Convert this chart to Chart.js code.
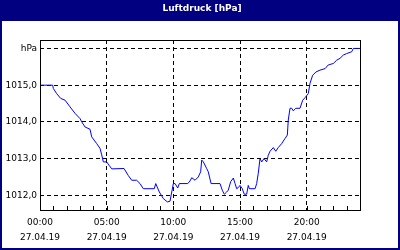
<!DOCTYPE html>
<html>
<head>
<meta charset="utf-8">
<script src="https://cdn.jsdelivr.net/npm/chart.js"></script>
<style>
  html, body { margin: 0; padding: 0; background: #fff; }
  #wrap { width: 400px; height: 250px; }
</style>
</head>
<body>
<div id="wrap"><canvas id="pressureChart" width="400" height="250"></canvas></div>
<script>
const chartTitle = 'Luftdruck [hPa]';
const dateLabel = '27.04.19';
const labelHours = [0, 5, 10, 15, 20];
const timeLabels = ['00:00', '05:00', '10:00', '15:00', '20:00'];
const yTicks = [1012, 1013, 1014, 1015, 1016];
const yUnit = 'hPa';

// hours since 00:00 and pressure in hPa
const hours = [0, 0.95, 1.0, 1.25, 1.55, 1.88, 2.25, 2.63, 3.0, 3.13, 3.38, 3.75, 3.88, 4.25, 4.5, 4.63, 4.75, 5.0, 5.18, 5.38,
  6.3, 6.62, 6.88, 7.25, 7.5, 7.75, 8.57, 8.68, 8.95, 9.25, 9.55, 9.75, 10.0, 10.13, 10.33, 10.45, 11.08, 11.25, 11.38, 11.63,
  11.87, 12.05, 12.13, 12.25, 12.5, 12.62, 12.83, 13.5, 13.67, 13.82, 14.0, 14.12, 14.3, 14.5, 14.63, 14.75, 14.87, 15.0, 15.17, 15.32,
  15.5, 15.62, 15.7, 16.13, 16.25, 16.37, 16.5, 16.63, 16.8, 17.0, 17.12, 17.25, 17.5, 17.68, 17.87, 18.13, 18.38, 18.55, 18.62, 18.75,
  18.88, 19.0, 19.18, 19.5, 19.7, 19.88, 20.12, 20.25, 20.45, 20.7, 21.0, 21.38, 21.62, 22.0, 22.25, 22.5, 22.75, 23.0, 23.38, 23.5, 24.0];
const pressure = [1015.00, 1015.00, 1014.91, 1014.77, 1014.64, 1014.59, 1014.41, 1014.23, 1014.09, 1014.00, 1013.86, 1013.80, 1013.59, 1013.41, 1013.28, 1013.10, 1012.91, 1012.91, 1012.82, 1012.72,
  1012.73, 1012.54, 1012.41, 1012.41, 1012.32, 1012.18, 1012.18, 1012.32, 1012.09, 1011.91, 1011.82, 1011.84, 1012.32, 1012.32, 1012.20, 1012.32, 1012.32, 1012.39, 1012.48, 1012.41,
  1012.50, 1012.64, 1012.96, 1012.91, 1012.73, 1012.64, 1012.32, 1012.32, 1012.14, 1012.03, 1012.09, 1012.14, 1012.37, 1012.47, 1012.32, 1012.18, 1012.21, 1012.27, 1012.18, 1012.03,
  1012.03, 1012.27, 1012.18, 1012.18, 1012.32, 1012.60, 1013.00, 1012.91, 1013.00, 1012.91, 1013.09, 1013.20, 1013.30, 1013.20, 1013.30, 1013.41, 1013.55, 1013.64, 1014.05, 1014.37,
  1014.37, 1014.30, 1014.37, 1014.37, 1014.59, 1014.66, 1014.77, 1015.05, 1015.27, 1015.36, 1015.41, 1015.45, 1015.55, 1015.59, 1015.68, 1015.73, 1015.82, 1015.86, 1015.91, 1016.00, 1016.00];

const navy = '#000080';
const tickFont = { family: 'DejaVu Sans', size: 9, lineHeight: 15 / 9 };
const hourTicks = [];
for (let h = 0; h <= 24; h++) hourTicks.push(h);

const framePlugin = {
  id: 'frame',
  beforeDraw(chart) {
    const c = chart.ctx;
    c.save();
    c.fillStyle = '#fff';
    c.fillRect(0, 0, chart.width, chart.height);
    c.restore();
  },
  afterDraw(chart) {
    const c = chart.ctx;
    const a = chart.chartArea;
    const xs = chart.scales.x;
    c.save();
    // plot box
    c.strokeStyle = '#000';
    c.lineWidth = 1;
    c.setLineDash([]);
    c.strokeRect(Math.round(a.left) + 0.5, Math.round(a.top) + 0.5, Math.round(a.right - a.left), Math.round(a.bottom - a.top));
    // hour ticks pointing into the plot
    c.beginPath();
    hourTicks.forEach(h => {
      const px = Math.round(xs.getPixelForValue(h)) + 0.5;
      c.moveTo(px, a.bottom);
      c.lineTo(px, a.bottom - 4);
    });
    c.stroke();
    // window border and title bar
    c.fillStyle = navy;
    c.fillRect(0, 0, chart.width, 21);
    c.fillRect(0, 0, 2, chart.height);
    c.fillRect(chart.width - 2, 0, 2, chart.height);
    c.fillRect(0, chart.height - 2, chart.width, 2);
    c.fillStyle = '#fff';
    c.font = 'bold 9px "DejaVu Sans"';
    c.textAlign = 'center';
    c.textBaseline = 'alphabetic';
    c.fillText(chartTitle, 202, 11);
    c.restore();
  }
};

const ctx = document.getElementById('pressureChart').getContext('2d');
const pressureChart = new Chart(ctx, {
  type: 'line',
  data: {
    datasets: [{
      label: chartTitle,
      data: hours.map((h, i) => ({ x: h, y: pressure[i] })),
      borderColor: '#0000ff',
      borderWidth: 1,
      pointRadius: 0,
      tension: 0,
      fill: false
    }]
  },
  options: {
    responsive: false,
    animation: false,
    layout: { padding: { top: 40, right: 40, left: 0, bottom: 0 } },
    plugins: {
      legend: { display: false },
      tooltip: { enabled: false },
      title: { display: false }
    },
    scales: {
      x: {
        type: 'linear',
        min: 0,
        max: 24,
        afterBuildTicks: scale => { scale.ticks = hourTicks.map(v => ({ value: v })); },
        afterFit: scale => { scale.height = 40; },
        ticks: {
          autoSkip: false,
          maxRotation: 0,
          padding: 5.5,
          color: '#000',
          font: tickFont,
          callback: v => {
            const i = labelHours.indexOf(v);
            return i >= 0 ? [timeLabels[i], dateLabel] : '';
          }
        },
        grid: {
          drawTicks: false,
          lineWidth: 1,
          color: c => (c.tick && c.tick.value % 5 === 0 && c.tick.value > 0 && c.tick.value < 24) ? '#000' : 'rgba(0,0,0,0)'
        },
        border: { display: false, dash: [4, 3] }
      },
      y: {
        min: 1011.6,
        max: 1016.23,
        afterBuildTicks: scale => { scale.ticks = yTicks.map(v => ({ value: v })); },
        afterFit: scale => { scale.width = 40; },
        ticks: {
          padding: 3,
          color: '#000',
          font: { family: 'DejaVu Sans', size: 9 },
          callback: v => v === 1016 ? yUnit : v.toFixed(1).replace('.', ',')
        },
        grid: {
          drawTicks: false,
          lineWidth: 1,
          color: c => (c.tick && c.tick.value < 1016.2) ? '#000' : 'rgba(0,0,0,0)'
        },
        border: { display: false, dash: [4, 3] }
      }
    }
  },
  plugins: [framePlugin]
});
</script>
</body>
</html>
